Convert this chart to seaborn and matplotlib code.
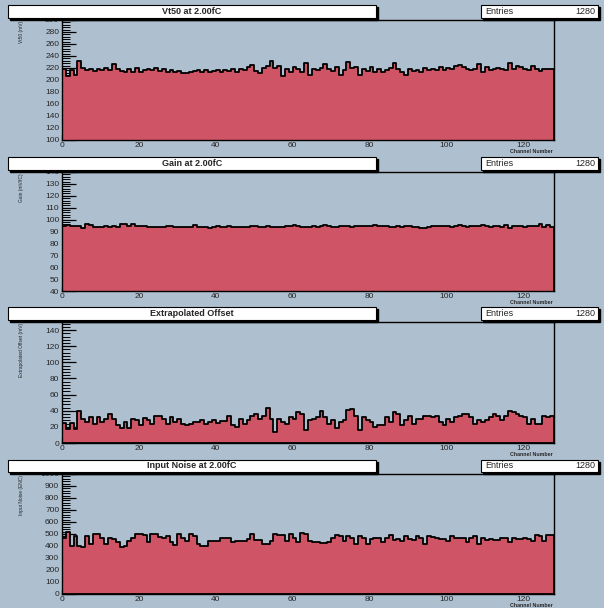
import numpy as np
import pandas as pd
import matplotlib
matplotlib.use("Agg")
import matplotlib.pyplot as plt
import seaborn as sns
from matplotlib.patches import Rectangle
from matplotlib.ticker import MultipleLocator

# ---------------- data ----------------
channels = np.arange(128)

vt50 = [218, 207, 217, 208, 231, 220, 217, 218, 215, 219,
        216, 220, 217, 226, 219, 215, 213, 218, 214, 220,
        213, 216, 219, 217, 220, 215, 218, 214, 216, 213,
        215, 212, 211, 213, 215, 216, 214, 217, 213, 215,
        217, 214, 216, 215, 218, 213, 219, 216, 221, 225,
        215, 212, 220, 223, 232, 220, 224, 207, 218, 213,
        221, 218, 213, 228, 208, 219, 216, 220, 227, 219,
        215, 221, 208, 217, 230, 220, 222, 208, 219, 215,
        221, 213, 218, 214, 217, 220, 229, 218, 214, 209,
        219, 215, 217, 214, 220, 216, 218, 217, 221, 216,
        220, 219, 224, 225, 222, 218, 216, 219, 226, 214,
        221, 216, 219, 220, 218, 216, 229, 218, 223, 221,
        219, 216, 223, 219, 215, 219, 218, 219]

gain = [95.0, 95.2, 94.8, 95.0, 94.6, 92.8, 96.0, 95.8, 93.6, 94.2,
        94.0, 95.0, 94.2, 94.6, 94.0, 96.4, 96.2, 94.8, 96.0, 95.0,
        94.6, 94.4, 94.2, 94.0, 93.6, 93.4, 93.8, 94.8, 94.6, 94.0,
        93.8, 94.0, 93.6, 93.8, 95.2, 94.0, 93.6, 93.8, 92.8, 93.4,
        94.4, 94.0, 93.8, 94.6, 93.8, 94.0, 94.2, 93.8, 94.0, 94.8,
        95.0, 94.2, 94.0, 94.4, 94.0, 93.6, 94.2, 94.0, 94.6, 94.8,
        95.2, 94.6, 94.0, 94.2, 93.6, 94.6, 94.0, 94.6, 95.4, 94.4,
        94.2, 94.0, 94.8, 94.6, 94.8, 94.0, 94.6, 94.8, 95.0, 94.4,
        94.8, 95.6, 95.0, 94.4, 94.6, 94.0, 94.2, 94.4, 94.0, 94.4,
        94.8, 94.0, 93.4, 92.8, 93.2, 94.0, 94.4, 94.4, 94.8, 95.0,
        94.6, 94.0, 94.4, 95.2, 94.6, 94.2, 94.4, 94.8, 95.0, 95.4,
        94.6, 93.4, 94.8, 94.6, 94.0, 95.2, 93.0, 94.6, 94.8, 94.6,
        94.2, 94.6, 94.4, 94.8, 96.4, 94.2, 95.4, 93.4]

offset = [25, 17, 25, 17, 40, 30, 26, 32, 24, 32,
          26, 30, 36, 30, 22, 18, 26, 18, 30, 28,
          22, 31, 28, 24, 33, 34, 30, 24, 32, 26,
          30, 24, 22, 24, 26, 26, 28, 24, 26, 28,
          25, 27, 27, 34, 22, 20, 30, 24, 28, 34,
          36, 30, 34, 44, 30, 14, 30, 26, 24, 32,
          30, 38, 36, 16, 28, 30, 32, 40, 32, 24,
          28, 18, 26, 28, 41, 42, 34, 16, 32, 28,
          26, 20, 22, 22, 32, 26, 38, 36, 22, 28,
          33, 24, 30, 30, 34, 34, 32, 34, 26, 22,
          30, 26, 32, 34, 36, 36, 32, 24, 28, 26,
          28, 32, 36, 34, 28, 34, 40, 38, 36, 34,
          32, 24, 30, 24, 24, 34, 32, 33]

noise = [470, 520, 400, 480, 400, 395, 480, 420, 500, 500,
         470, 420, 470, 460, 430, 390, 400, 440, 470, 500,
         500, 495, 430, 500, 500, 475, 470, 480, 430, 410,
         500, 470, 440, 500, 480, 420, 400, 400, 440, 440,
         445, 470, 470, 465, 430, 440, 440, 445, 460, 500,
         450, 450, 420, 420, 440, 500, 495, 490, 440, 500,
         470, 430, 510, 500, 440, 430, 430, 425, 425, 435,
         470, 490, 480, 440, 480, 470, 420, 480, 470, 420,
         460, 470, 470, 430, 470, 490, 450, 460, 440, 480,
         460, 450, 480, 470, 420, 480, 475, 470, 460, 460,
         440, 480, 470, 470, 470, 430, 470, 480, 420, 470,
         450, 460, 450, 450, 470, 470, 430, 470, 460, 460,
         470, 460, 440, 490, 480, 440, 490, 490]

titles = ["Vt50 at 2.00fC", "Gain at 2.00fC", "Extrapolated Offset", "Input Noise at 2.00fC"]
ylabels = ["Vt50 (mV)", "Gain (mV/fC)", "Extrapolated Offset (mV)", "Input Noise (ENC)"]
entries = 1280
xlabel = "Channel Number"

# ---------------- style ----------------
BG = "#aebfcf"
RED = "#cf5566"
W, H = 604, 608

sns.set_theme(style="white")
plt.rcParams["font.family"] = ["Liberation Sans", "DejaVu Sans"]

fig = plt.figure(figsize=(W / 100, H / 100), dpi=100, facecolor=BG)

series = [vt50, gain, offset, noise]
ylims = [(100, 300), (40, 140), (0, 150), (0, 1000)]
majors = [20, 10, 20, 100]
axes_px = [(20, 140), (172, 291), (322, 443), (474, 594)]   # (top, bottom)
boxes_px = [(5, 18), (157, 170), (307, 320), (460, 472)]


def fig_box(x0, x1, ytop, ybot):
    sh = Rectangle(((x0 + 2) / W, 1 - (ybot + 2) / H), (x1 - x0) / W, (ybot - ytop) / H,
                   transform=fig.transFigure, facecolor="black", edgecolor="black", zorder=5)
    bx = Rectangle((x0 / W, 1 - ybot / H), (x1 - x0) / W, (ybot - ytop) / H,
                   transform=fig.transFigure, facecolor="white", edgecolor="black",
                   linewidth=0.8, zorder=6)
    fig.patches.extend([sh, bx])


for i in range(4):
    top, bot = axes_px[i]
    ax = fig.add_axes([62 / W, 1 - bot / H, 492 / W, (bot - top) / H])
    ax.set_facecolor(BG)
    df = pd.DataFrame({"channel": channels, "value": series[i]})
    sns.histplot(data=df, x="channel", weights="value", bins=128, binrange=(0, 128),
                 element="step", fill=True, color=RED, alpha=1.0,
                 edgecolor="black", linewidth=1.3, ax=ax)
    ax.set_xlim(0, 128)
    ax.set_ylim(*ylims[i])
    ax.set_xlabel("")
    ax.set_ylabel("")
    ax.xaxis.set_major_locator(MultipleLocator(20))
    ax.xaxis.set_minor_locator(MultipleLocator(5))
    ax.yaxis.set_major_locator(MultipleLocator(majors[i]))
    ax.yaxis.set_minor_locator(MultipleLocator(majors[i] / 5))
    ax.tick_params(axis="y", which="major", direction="in", length=10, width=0.9,
                   color="black", pad=2, labelsize=6, left=True)
    ax.tick_params(axis="y", which="minor", direction="in", length=6, width=0.7,
                   color="black", left=True)
    ax.tick_params(axis="x", which="major", direction="in", length=3.5, width=0.9,
                   color="black", pad=1.5, labelsize=6, bottom=True)
    ax.tick_params(axis="x", which="minor", direction="in", length=1.8, width=0.7,
                   color="black", bottom=True)
    for sp in ax.spines.values():
        sp.set_color("black")
        sp.set_linewidth(1.0)

    # title and entries boxes
    btop, bbot = boxes_px[i]
    fig_box(8, 376, btop, bbot)
    fig.text((8 + 376) / 2 / W, 1 - (btop + bbot) / 2 / H, titles[i], ha="center", va="center",
             fontsize=6.5, fontweight="bold", zorder=7)
    fig_box(481, 598, btop, bbot)
    fig.text(485 / W, 1 - (btop + bbot) / 2 / H, "Entries", ha="left", va="center",
             fontsize=6.5, zorder=7)
    fig.text(595 / W, 1 - (btop + bbot) / 2 / H, str(entries), ha="right", va="center",
             fontsize=6.5, zorder=7)

    # axis labels (ROOT style)
    fig.text(22 / W, 1 - (top + 1) / H, ylabels[i], rotation=90, ha="center", va="top",
             fontsize=3.5)
    fig.text(553 / W, 1 - (bot + 11.5) / H, xlabel, ha="right", va="center",
             fontsize=3.8, fontweight="bold")

fig.savefig("out.png", dpi=100, facecolor=BG)
